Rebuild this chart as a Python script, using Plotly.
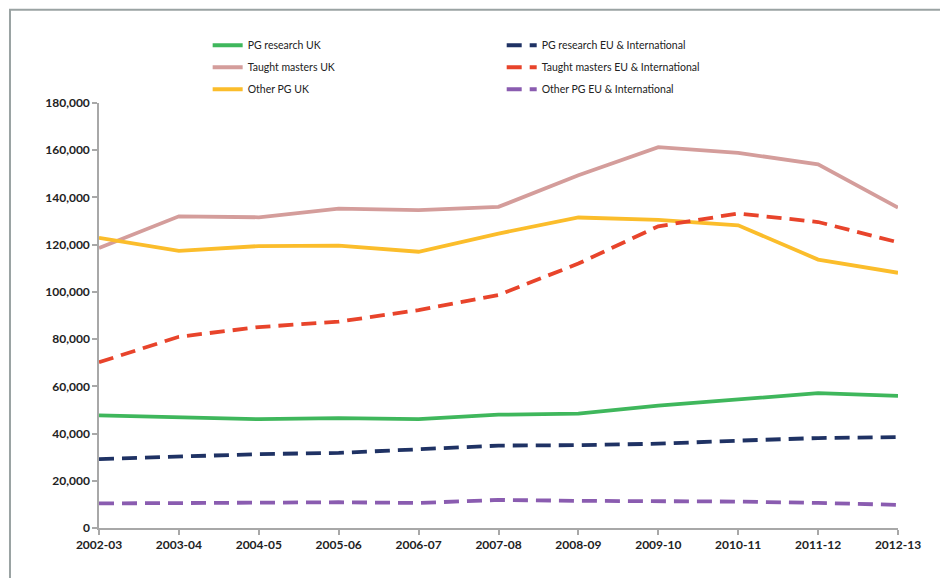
import plotly.graph_objects as go

years = ["2002-03", "2003-04", "2004-05", "2005-06", "2006-07", "2007-08",
         "2008-09", "2009-10", "2010-11", "2011-12", "2012-13"]

pg_research_uk = [47700, 47000, 46100, 46500, 46100, 48000, 48400, 51800, 54300, 57100, 56000]
taught_masters_uk = [118600, 132000, 131600, 135300, 134600, 136000, 149400, 161300, 158900, 154000, 135700]
other_pg_uk = [122900, 117400, 119400, 119600, 117000, 124700, 131500, 130500, 128200, 113700, 108100]
pg_research_eu = [29200, 30300, 31300, 31800, 33500, 34900, 35100, 35700, 37000, 38100, 38500]
taught_masters_eu = [70200, 81000, 85100, 87400, 92300, 98700, 112000, 127800, 133200, 129600, 121000]
other_pg_eu = [10400, 10600, 10800, 10900, 10600, 11900, 11500, 11500, 11200, 10600, 9800]

series = [
    ("PG research UK", pg_research_uk, "#3fb75c", "solid", "legend"),
    ("Taught masters UK", taught_masters_uk, "#d49d9b", "solid", "legend"),
    ("Other PG UK", other_pg_uk, "#fbbd2b", "solid", "legend"),
    ("PG research EU & International", pg_research_eu, "#1f3264", "15px,8px", "legend2"),
    ("Taught masters EU & International", taught_masters_eu, "#e8442b", "15px,8px", "legend2"),
    ("Other PG EU & International", other_pg_eu, "#8a5cb0", "15px,8px", "legend2"),
]

fig = go.Figure()
for i, (name, vals, color, dash, leg) in enumerate(series):
    fig.add_trace(go.Scatter(
        x=years, y=vals, name=name, mode="lines",
        line=dict(color=color, width=3.8, dash=dash),
        legend=leg, legendgroup=f"g{i}",
    ))

tickfont = dict(family="Lato", size=12, color="#222222", weight="bold")
legfont = dict(family="Lato", size=10.5, color="#222222")

# page body adds an 8px offset, so the figure is drawn 8px smaller
fig.update_layout(
    width=940, height=570,
    margin=dict(l=91, r=50, t=94.5, b=49.5),
    paper_bgcolor="white", plot_bgcolor="white",
    xaxis=dict(
        type="category", range=[0, 10], showgrid=False, zeroline=False,
        showline=True, linecolor="#a8a8a8", linewidth=1.5,
        ticks="outside", ticklen=5, tickcolor="#a8a8a8", tickwidth=1.5,
        tickfont=tickfont,
    ),
    yaxis=dict(
        range=[0, 180000], dtick=20000, tickformat=",d", showgrid=False,
        zeroline=False, showline=True, linecolor="#a8a8a8", linewidth=1.5,
        ticks="outside", ticklen=5, tickcolor="#a8a8a8", tickwidth=1.5,
        tickfont=tickfont,
    ),
    legend=dict(
        x=0.136, y=1.17, xanchor="left", yanchor="top",
        font=legfont, itemwidth=30, tracegroupgap=3, bgcolor="rgba(0,0,0,0)",
    ),
    legend2=dict(
        x=0.504, y=1.17, xanchor="left", yanchor="top",
        font=legfont, itemwidth=30, tracegroupgap=3, bgcolor="rgba(0,0,0,0)",
    ),
    showlegend=True,
    shapes=[dict(
        type="rect", xref="paper", yref="paper",
        x0=-0.1114, x1=1.06, y0=-0.2, y1=1.2195,
        line=dict(color="#9aa3a3", width=2), fillcolor="rgba(0,0,0,0)",
        layer="below",
    )],
)

fig.write_html("out.html")
